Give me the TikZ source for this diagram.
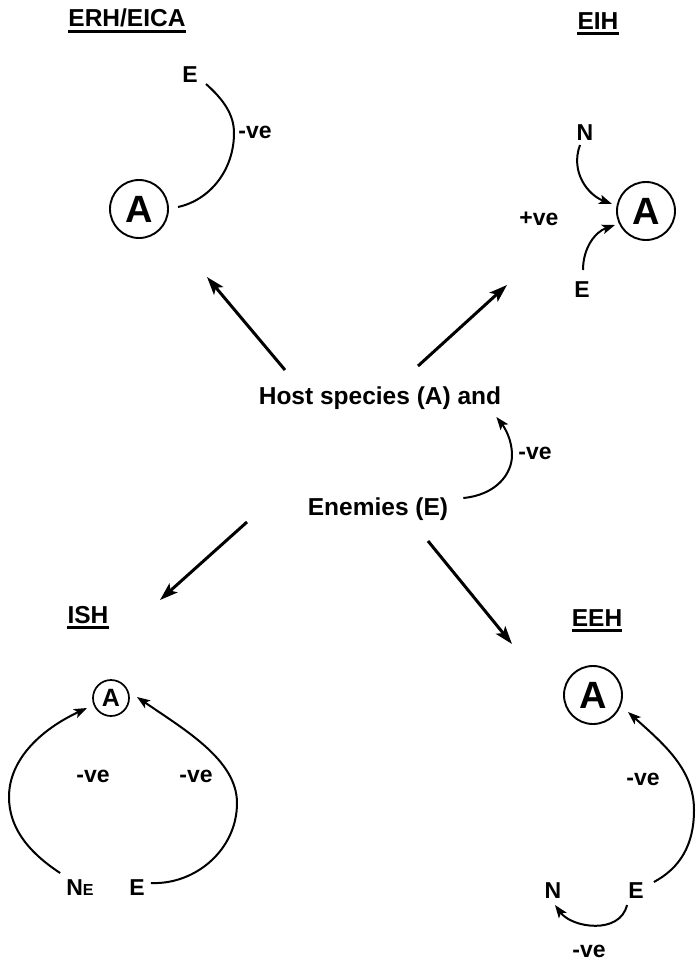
\documentclass[tikz,border=0pt]{standalone}
\usepackage{fontspec}
\setmainfont{Liberation Sans}
\usetikzlibrary{arrows.meta,calc}
\begin{document}
\begin{tikzpicture}[x=1pt,y=-1pt,
  lbl/.style={font=\fontsize{23}{25}\selectfont\bfseries, inner sep=0pt, anchor=base},
  ttl/.style={font=\fontsize{24.5}{27}\selectfont\bfseries, inner sep=0pt, anchor=base},
  mid/.style={font=\fontsize{24.5}{28}\selectfont\bfseries, inner sep=0pt, anchor=base},
  host/.style={circle, draw, line width=1.9pt, minimum size=58pt, inner sep=0pt,
               font=\fontsize{38}{38}\selectfont\bfseries},
  hostsm/.style={circle, draw, line width=1.7pt, minimum size=36pt, inner sep=0pt,
               font=\fontsize{25}{25}\selectfont\bfseries},
  link/.style={line width=2pt},
  tip/.style={-{Stealth[length=13pt,width=9.5pt,inset=3pt]}},
  bigarrow/.style={line width=3pt, -{Stealth[length=18pt,width=12pt,inset=4pt]}},
  uline/.style={line width=3pt},
]
\useasboundingbox (0,0) rectangle (697,961);
\fill[white] (0,0) rectangle (697,961);

% ---------- titles ----------
\node[ttl] (erhT) at (127,27) {ERH/EICA};
\node[ttl] (eihT) at (598,29) {EIH};
\node[ttl] (ishT) at (88,623) {ISH};
\node[ttl] (eehT) at (597,626) {EEH};
\foreach \t in {erhT,eihT,ishT,eehT}
  \draw[uline] ($(\t.base west)+(0,4.5)$) -- ($(\t.base east)+(0,4.5)$);

% ---------- centre ----------
\node[mid] (host) at (380,404) {Host species (A) and};
\node[mid] (enem) at (378,515) {Enemies (E)};
\node[lbl] (cV) at (535,459) {-ve};
\draw[link,tip] ($(enem.base east)+(15,-17)$)
  .. controls (495,495) and (512,475) .. (512,455)
  .. controls (512,440) and (505,428) .. ($(host.base east)+(-5,13)$);

\coordinate (toERH) at (207,277);
\coordinate (toEIH) at (507,285);
\coordinate (toISH) at (160,600);
\coordinate (toEEH) at (512,644);
\draw[bigarrow] ($(host.base)+(-95,-34)$) -- (toERH);
\draw[bigarrow] ($(host.base)+(38,-38)$) -- (toEIH);
\draw[bigarrow] ($(enem.base)+(-131,7)$) -- (toISH);
\draw[bigarrow] ($(enem.base)+(50,26)$) -- (toEEH);

% ---------- ERH/EICA ----------
\node[lbl] (erhE) at (190,82) {E};
\node[host] (erhA) at (139,209) {A};
\node[lbl] (erhV) at (255,138) {-ve};
\draw[link] ($(erhE.base)+(16,2)$)
  .. controls (224,100) and (234,115) .. (234,133)
  .. controls (234,170) and (210,200) .. ($(erhA.center)+(39,-2)$);

% ---------- EIH ----------
\node[lbl] (eihN) at (585,140) {N};
\node[lbl] (eihE) at (582,297) {E};
\node[host] (eihA) at (646,211) {A};
\node[lbl] (eihV) at (539,225) {+ve};
\draw[link,tip] ($(eihN.base)+(-5,5)$)
  .. controls (570,172) and (588,195) .. ($(eihA.center)+(-34,-7)$);
\draw[link,tip] ($(eihE.base)+(1,-27)$)
  .. controls (583,248) and (595,232) .. ($(eihA.center)+(-31,14)$);

% ---------- ISH ----------
\node[hostsm] (ishA) at (111,698) {A};
\node[lbl] (ishN) at (80,895) {N{\fontsize{16}{16}\selectfont E}};
\node[lbl] (ishE) at (137,895) {E};
\node[lbl] (ishV1) at (93,782) {-ve};
\node[lbl] (ishV2) at (196,782) {-ve};
\draw[link,tip] ($(ishN.base west)+(-6,-22)$)
  .. controls (25,850) and (9,825) .. (9,797)
  .. controls (9,760) and (40,730) .. ($(ishA.center)+(-24,10)$);
\draw[link,tip] ($(ishE.base east)+(6,-12)$)
  .. controls (195,885) and (237,850) .. (237,803)
  .. controls (237,760) and (185,730) .. ($(ishA.center)+(26,-1)$);

% ---------- EEH ----------
\node[host] (eehA) at (593,695) {A};
\node[lbl] (eehN) at (553,898) {N};
\node[lbl] (eehE) at (636,898) {E};
\node[lbl] (eehV1) at (643,785) {-ve};
\node[lbl] (eehV2) at (589,957) {-ve};
\draw[link,tip] ($(eehE.base east)+(10,-16)$)
  .. controls (680,868) and (694,845) .. (694,810)
  .. controls (694,770) and (665,745) .. ($(eehA.center)+(35,17)$);
\draw[link,tip] ($(eehE.base)+(-9,7)$)
  .. controls (620,935) and (572,928) .. ($(eehN.base)+(2,7)$);
\end{tikzpicture}
\end{document}
